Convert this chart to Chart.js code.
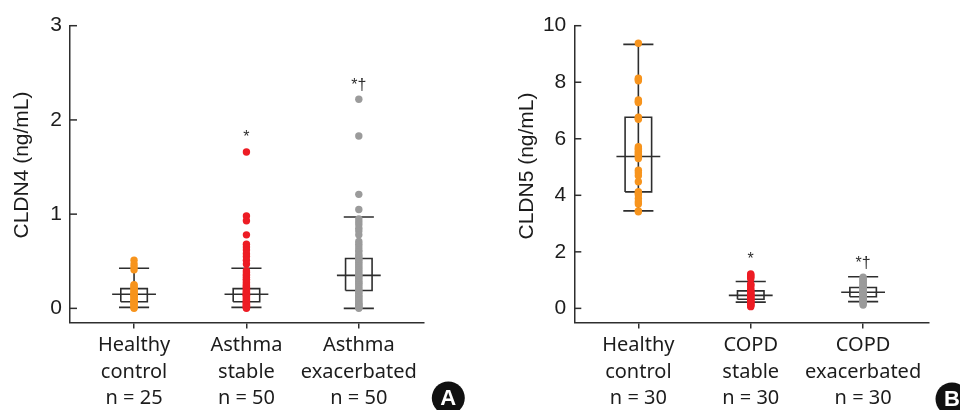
<!DOCTYPE html>
<html><head><meta charset="utf-8">
<script src="https://cdn.jsdelivr.net/npm/chart.js@4/dist/chart.umd.min.js"></script>
<style>
html,body{margin:0;padding:0;background:#fff;}
#wrap{position:relative;width:960px;height:410px;overflow:hidden;background:#fff;}
canvas{position:absolute;top:0;}
</style></head><body>
<div id="wrap">
<canvas id="cA" width="480" height="410" style="left:0"></canvas>
<canvas id="cB" width="480" height="410" style="left:480px"></canvas>
</div>
<script>
// ---------- Panel A data ----------
const categoriesA = [["Healthy","control","n = 25"],["Asthma","stable","n = 50"],["Asthma","exacerbated","n = 50"]];
const yTicksA = [0, 1, 2, 3];
const yTitleA = "CLDN4 (ng/mL)";
const healthyA = [0.51,0.47,0.44,0.41,0.25,0.24,0.22,0.21,0.19,0.18,0.16,0.15,0.14,0.13,0.12,0.10,0.09,0.08,0.07,0.06,0.05,0.04,0.03,0.01,0.00];
const asthmaStable = [1.66,0.98,0.93,0.78,0.68,0.65,0.62,0.58,0.55,0.51,0.47,0.40,0.38,0.36,0.35,0.33,0.31,0.30,0.28,0.27,0.25,0.24,0.23,0.22,0.21,0.20,0.19,0.18,0.17,0.16,0.15,0.14,0.14,0.13,0.12,0.11,0.10,0.09,0.08,0.07,0.06,0.06,0.05,0.04,0.03,0.03,0.02,0.01,0.01,0.00];
const asthmaExac = [2.22,1.83,1.21,1.05,0.95,0.92,0.89,0.85,0.82,0.78,0.71,0.68,0.65,0.62,0.60,0.57,0.55,0.53,0.51,0.49,0.47,0.45,0.43,0.41,0.39,0.37,0.35,0.34,0.32,0.30,0.28,0.27,0.25,0.23,0.21,0.19,0.18,0.16,0.14,0.12,0.11,0.09,0.08,0.06,0.05,0.04,0.03,0.02,0.01,0.00];
const q1A = [0.07, 0.07, 0.19];
const medianA = [0.15, 0.15, 0.35];
const q3A = [0.21, 0.21, 0.53];
const whiskerLowA = [0.01, 0.01, 0.00];
const whiskerHighA = [0.425, 0.425, 0.97];
const starsA = ["", "*", "*\u2020"];

// ---------- Panel B data ----------
const categoriesB = [["Healthy","control","n = 30"],["COPD","stable","n = 30"],["COPD","exacerbated","n = 30"]];
const yTicksB = [0, 2, 4, 6, 8, 10];
const yTitleB = "CLDN5 (ng/mL)";
const healthyB = [9.38,8.14,8.10,8.05,7.37,7.32,7.28,6.76,6.72,6.69,5.72,5.66,5.62,5.55,5.50,5.45,5.38,5.30,4.89,4.80,4.69,4.48,4.13,4.07,4.01,3.89,3.77,3.69,3.45,3.42];
const copdStable = [1.22,1.18,1.14,1.10,1.05,0.86,0.83,0.80,0.72,0.66,0.62,0.58,0.55,0.52,0.49,0.46,0.44,0.41,0.38,0.35,0.32,0.29,0.26,0.23,0.20,0.17,0.14,0.11,0.09,0.06];
const copdExac = [1.10,1.06,1.02,0.98,0.94,0.90,0.86,0.82,0.78,0.75,0.72,0.69,0.66,0.63,0.60,0.57,0.55,0.52,0.49,0.46,0.43,0.40,0.37,0.34,0.31,0.28,0.24,0.20,0.16,0.12];
const q1B = [4.12, 0.32, 0.41];
const medianB = [5.37, 0.46, 0.57];
const q3B = [6.76, 0.62, 0.74];
const whiskerLowB = [3.45, 0.22, 0.24];
const whiskerHighB = [9.34, 0.95, 1.12];
const starsB = ["", "*", "*\u2020"];

// ---------- styling ----------
const groupColors = ["#F7941D", "#ED1C24", "#9B9B9B"];
const LINE = "#2e2e2e";
const TEXT = "#1c1c1c";
const BOX_HALF = 0.118, CAP_HALF = 0.134, MED_HALF = 0.195;
const TICK_FONT = '"Liberation Sans", Arial, sans-serif';
const CAT_FONT = '"Noto Sans", sans-serif';

function makeChart(id, cfg) {
  const datasets = [];
  cfg.groups.forEach((vals, i) => {
    datasets.push({
      data: vals.map(v => ({x: i, y: v})),
      backgroundColor: groupColors[i], borderColor: groupColors[i],
      borderWidth: 0, pointRadius: 3.7, pointHoverRadius: 3.7, order: 0
    });
  });
  const seg = [];
  cfg.groups.forEach((vals, i) => {
    const gap = {x: i, y: null};
    seg.push({x: i, y: cfg.lo[i]}, {x: i, y: cfg.hi[i]}, gap);
    seg.push({x: i - CAP_HALF, y: cfg.hi[i]}, {x: i + CAP_HALF, y: cfg.hi[i]}, gap);
    seg.push({x: i - CAP_HALF, y: cfg.lo[i]}, {x: i + CAP_HALF, y: cfg.lo[i]}, gap);
    seg.push({x: i - BOX_HALF, y: cfg.q1[i]}, {x: i + BOX_HALF, y: cfg.q1[i]},
             {x: i + BOX_HALF, y: cfg.q3[i]}, {x: i - BOX_HALF, y: cfg.q3[i]},
             {x: i - BOX_HALF, y: cfg.q1[i]}, gap);
    seg.push({x: i - MED_HALF, y: cfg.med[i]}, {x: i + MED_HALF, y: cfg.med[i]}, gap);
  });
  datasets.push({
    data: seg, showLine: true, spanGaps: false, borderColor: LINE, borderWidth: 1.6,
    pointRadius: 0, pointHoverRadius: 0, order: 1, fill: false,
    borderJoinStyle: 'miter', borderCapStyle: 'butt'
  });

  const overlay = {
    id: 'overlay' + id,
    afterDraw(chart) {
      const {ctx, scales: {x, y}} = chart;
      ctx.save();
      // inward y ticks
      ctx.strokeStyle = LINE; ctx.lineWidth = 1.5;
      y.ticks.forEach(t => {
        const py = y.getPixelForValue(t.value);
        ctx.beginPath(); ctx.moveTo(x.left, py); ctx.lineTo(x.left + 7, py); ctx.stroke();
      });
      // significance marks
      ctx.fillStyle = LINE; ctx.font = '16px ' + TICK_FONT;
      ctx.textAlign = 'center'; ctx.textBaseline = 'alphabetic';
      cfg.stars.forEach((s, i) => {
        if (!s) return;
        const top = y.getPixelForValue(Math.max(...cfg.groups[i]));
        ctx.fillText(s, x.getPixelForValue(i), top - 9.5);
      });
      // y title
      ctx.save();
      ctx.translate(cfg.titleX, cfg.titleY); ctx.rotate(-Math.PI / 2);
      ctx.fillStyle = TEXT; ctx.font = '21px ' + TICK_FONT;
      ctx.textAlign = 'center'; ctx.textBaseline = 'middle';
      ctx.fillText(cfg.yTitle, 0, 0);
      ctx.restore();
      // panel badge
      ctx.beginPath(); ctx.arc(cfg.badgeX, cfg.badgeY, 16.5, 0, Math.PI * 2);
      ctx.fillStyle = '#111'; ctx.fill();
      ctx.fillStyle = '#fff'; ctx.font = 'bold 22px ' + TICK_FONT;
      ctx.textAlign = 'center'; ctx.textBaseline = 'middle';
      ctx.fillText(cfg.badge, cfg.badgeX, cfg.badgeY + 1);
      ctx.restore();
    }
  };

  return new Chart(document.getElementById(id), {
    type: 'scatter',
    data: {datasets},
    options: {
      responsive: false, animation: false,
      layout: {padding: {left: 0, right: cfg.padRight, top: 25.7, bottom: 0}},
      plugins: {legend: {display: false}, tooltip: {enabled: false}},
      scales: {
        x: {
          type: 'linear', min: -0.57, max: 2.58,
          afterBuildTicks: s => { s.ticks = cfg.cats.map((c, i) => ({value: i})); },
          afterFit: s => { s.height = 87.5; },
          ticks: {
            callback: (v, idx) => cfg.cats[idx], autoSkip: false, maxRotation: 0,
            font: {family: CAT_FONT, size: 20, lineHeight: 1.315}, color: TEXT, padding: 4
          },
          grid: {drawOnChartArea: false, drawTicks: true, tickLength: 6, color: LINE, lineWidth: 1.5},
          border: {color: LINE, width: 1.5}
        },
        y: {
          min: cfg.yMin, max: cfg.yMax,
          afterBuildTicks: s => { s.ticks = cfg.yTicks.map(v => ({value: v})); },
          afterFit: s => { s.width = cfg.axisLeft; },
          ticks: {font: {family: TICK_FONT, size: 21}, color: TEXT, padding: 8},
          grid: {display: false, drawTicks: false},
          border: {color: LINE, width: 1.5}
        }
      }
    },
    plugins: [overlay]
  });
}

makeChart('cA', {
  cats: categoriesA, yTicks: yTicksA, yTitle: yTitleA, yMin: -0.15, yMax: 3,
  groups: [healthyA, asthmaStable, asthmaExac],
  q1: q1A, med: medianA, q3: q3A, lo: whiskerLowA, hi: whiskerHighA, stars: starsA,
  axisLeft: 70, padRight: 56, titleX: 22, titleY: 165, badge: 'A', badgeX: 448.3, badgeY: 398
});
makeChart('cB', {
  cats: categoriesB, yTicks: yTicksB, yTitle: yTitleB, yMin: -0.5, yMax: 10,
  groups: [healthyB, copdStable, copdExac],
  q1: q1B, med: medianB, q3: q3B, lo: whiskerLowB, hi: whiskerHighB, stars: starsB,
  axisLeft: 94.3, padRight: 31.7, titleX: 47, titleY: 166, badge: 'B', badgeX: 472, badgeY: 399
});
</script>
</body></html>
